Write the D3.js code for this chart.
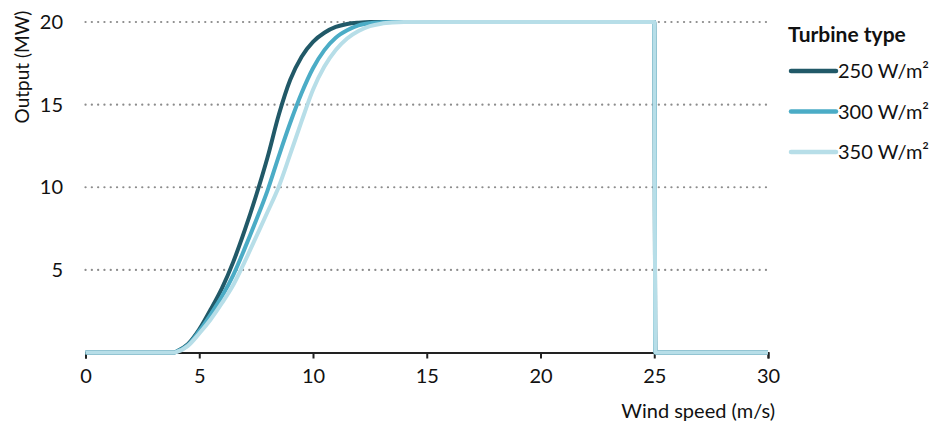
<!DOCTYPE html>
<html><head><meta charset="utf-8">
<script src="https://cdn.jsdelivr.net/npm/d3@7"></script>
<style>
body{margin:0;background:#fff;}
text{font-family:Lato,"Noto Sans",sans-serif;}
</style></head>
<body><svg id="c" width="936" height="422"></svg>
<script>
const windSpeed = [0,3.5,3.9,4,4.5,5,5.5,6,6.5,7,7.5,8,8.5,9,9.5,10,10.5,11,11.5,12,12.5,13,13.5,14,25,25.05,30];
const out250 = [0,0,0,0.06,0.5,1.4,2.6,3.9,5.5,7.4,9.5,11.8,14.4,16.5,17.9,18.8,19.35,19.7,19.88,19.96,20,20,20,20,20,0,0];
const out300 = [0,0,0,0.05,0.45,1.3,2.3,3.4,4.7,6.3,8.0,9.8,11.9,13.9,15.7,17.2,18.3,19.05,19.5,19.8,19.93,19.98,20,20,20,0,0];
const out350 = [0,0,0,0.03,0.4,1.15,2.0,3.0,4.1,5.5,7.0,8.5,10.05,12.0,14.0,15.9,17.3,18.3,19.0,19.45,19.75,19.9,19.97,20,20,0,0];
const seriesNames = ["250 W/m²","300 W/m²","350 W/m²"];
const seriesColors = ["#215968","#4bacc6","#b7dee8"];
const xTicks = [0,5,10,15,20,25,30];
const yTicks = [5,10,15,20];

const svg = d3.select("#c");
const x = d3.scaleLinear().domain([0,30]).range([85.5,768]);
const y = d3.scaleLinear().domain([0,20]).range([352.5,22]);

// gridlines
svg.append("g").selectAll("line").data(yTicks).join("line")
  .attr("x1",x(0)).attr("x2",x(30)).attr("y1",d=>y(d)).attr("y2",d=>y(d))
  .attr("stroke","#8c8c8c").attr("stroke-width",2.2).attr("stroke-linecap","round")
  .attr("stroke-dasharray","0.1,6.2");

// y labels
svg.append("g").selectAll("text").data(yTicks).join("text")
  .attr("x",63).attr("y",d=>y(d)+7).attr("text-anchor","end")
  .attr("font-size",20).attr("fill","#111").text(d=>d);

// x axis
const xa = svg.append("g").attr("transform","translate(0,352.5)")
  .call(d3.axisBottom(x).tickValues(xTicks).tickSize(6).tickPadding(6).tickFormat(d3.format("d")));
xa.select(".domain").attr("stroke","#222").attr("stroke-width",2);
xa.selectAll(".tick line").attr("stroke","#222").attr("stroke-width",2);
xa.selectAll(".tick text").attr("font-size",20).attr("fill","#111")
  .attr("font-family","Lato,'Noto Sans',sans-serif").attr("dy",null).attr("y",30.5);

// lines
const series = [out250,out300,out350];
const line = d3.line().x((d,i)=>x(windSpeed[i])).y(d=>y(d)).curve(d3.curveMonotoneX);
svg.append("g").selectAll("path").data(series).join("path")
  .attr("d",line).attr("fill","none")
  .attr("stroke",(d,i)=>seriesColors[i]).attr("stroke-width",4)
  .attr("stroke-linejoin","round");

// axis titles
svg.append("text").attr("x",775).attr("y",418).attr("text-anchor","end")
  .attr("font-size",20).attr("fill","#111").text("Wind speed (m/s)");
svg.append("text").attr("transform","translate(29,67) rotate(-90)").attr("text-anchor","middle")
  .attr("font-size",19).attr("fill","#111").text("Output (MW)");

// legend
svg.append("text").attr("x",788).attr("y",42).attr("font-size",21).attr("font-weight","bold")
  .attr("fill","#111").text("Turbine type");
const lg = svg.append("g").selectAll("g").data(seriesNames).join("g")
  .attr("transform",(d,i)=>`translate(0,${71+i*40.5})`);
lg.append("line").attr("x1",791).attr("x2",836).attr("stroke",(d,i)=>seriesColors[i])
  .attr("stroke-width",4.5).attr("stroke-linecap","round");
lg.append("text").attr("x",838).attr("y",7).attr("font-size",20).attr("fill","#111").text(d=>d);
</script></body></html>
